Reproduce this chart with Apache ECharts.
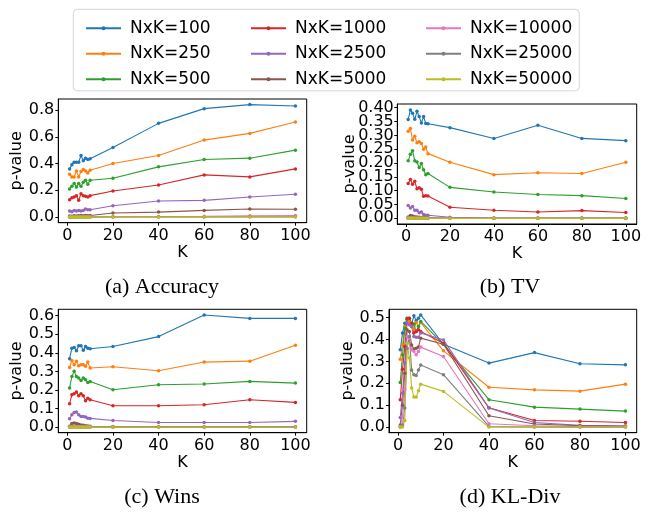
<!DOCTYPE html>
<html><head><meta charset="utf-8">
<script src="https://cdn.jsdelivr.net/npm/echarts@6/dist/echarts.min.js"></script>
<style>html,body{margin:0;padding:0;background:#fff}#c{width:652px;height:512px}</style>
</head><body><div id="c"></div>
<script>
// ---- data ----
const K = [1,2,3,4,5,6,7,8,9,10,20,40,60,80,100];
const names = ['NxK=100','NxK=250','NxK=500','NxK=1000','NxK=2500','NxK=5000','NxK=10000','NxK=25000','NxK=50000'];
const xTicks = [0,20,40,60,80,100];
const yTicksAcc = [0,0.2,0.4,0.6,0.8];
const yTicksTV = [0,0.05,0.1,0.15,0.2,0.25,0.3,0.35,0.4];
const yTicksWins = [0,0.1,0.2,0.3,0.4,0.5,0.6];
const yTicksKL = [0,0.1,0.2,0.3,0.4,0.5];
const captions = ['(a) Accuracy','(b) TV','(c) Wins','(d) KL-Div'];

// (a) Accuracy
const acc_100   = [0.36,0.39,0.41,0.41,0.41,0.46,0.42,0.44,0.43,0.435,0.52,0.70,0.81,0.84,0.83];
const acc_250   = [0.32,0.30,0.30,0.345,0.30,0.34,0.355,0.345,0.33,0.35,0.40,0.46,0.575,0.625,0.71];
const acc_500   = [0.21,0.23,0.25,0.225,0.25,0.23,0.26,0.275,0.245,0.275,0.29,0.375,0.43,0.44,0.50];
const acc_1000  = [0.13,0.145,0.15,0.16,0.125,0.175,0.16,0.155,0.15,0.16,0.195,0.24,0.315,0.30,0.36];
const acc_2500  = [0.045,0.04,0.05,0.045,0.05,0.045,0.05,0.06,0.055,0.055,0.085,0.12,0.125,0.15,0.17];
const acc_5000  = [0.008,0.006,0.01,0.008,0.01,0.012,0.01,0.012,0.01,0.012,0.03,0.037,0.05,0.06,0.058];
const acc_10000 = [0.001,0.001,0.002,0.001,0.002,0.002,0.002,0.002,0.002,0.002,0.003,0.004,0.006,0.01,0.012];
const acc_25000 = [0,0,0,0,0,0,0,0,0,0,0.001,0.001,0.001,0.002,0.002];
const acc_50000 = [0,0,0,0,0,0,0,0,0,0,0,0,0,0,0];

// (b) TV
const tv_100   = [0.357,0.392,0.38,0.358,0.387,0.368,0.345,0.368,0.343,0.342,0.328,0.289,0.337,0.289,0.281];
const tv_250   = [0.315,0.325,0.283,0.297,0.273,0.277,0.271,0.25,0.258,0.234,0.203,0.158,0.165,0.162,0.203];
const tv_500   = [0.208,0.232,0.244,0.208,0.204,0.184,0.198,0.176,0.158,0.162,0.112,0.095,0.086,0.082,0.072];
const tv_1000  = [0.126,0.14,0.123,0.134,0.107,0.111,0.105,0.08,0.082,0.081,0.04,0.029,0.023,0.028,0.021];
const tv_2500  = [0.046,0.037,0.043,0.029,0.029,0.02,0.023,0.014,0.011,0.011,0.004,0.001,0.001,0.001,0.001];
const tv_5000  = [0.005,0.01,0.008,0.006,0.005,0.004,0.003,0.002,0.002,0.002,0.001,0,0,0,0];
const tv_10000 = [0.001,0.002,0.002,0.001,0.001,0.001,0.001,0,0,0,0,0,0,0,0];
const tv_25000 = [0,0,0,0,0,0,0,0,0,0,0,0,0,0,0];
const tv_50000 = [0,0,0,0,0,0,0,0,0,0,0,0,0,0,0];

// (c) Wins
const wins_100   = [0.368,0.425,0.429,0.411,0.438,0.438,0.413,0.434,0.425,0.422,0.434,0.487,0.603,0.585,0.585];
const wins_250   = [0.321,0.359,0.336,0.354,0.33,0.336,0.336,0.327,0.35,0.318,0.325,0.303,0.35,0.355,0.44];
const wins_500   = [0.21,0.273,0.30,0.273,0.264,0.251,0.264,0.255,0.24,0.246,0.201,0.228,0.232,0.246,0.237];
const wins_1000  = [0.126,0.174,0.18,0.189,0.169,0.18,0.169,0.142,0.156,0.147,0.115,0.115,0.12,0.147,0.133];
const wins_2500  = [0.045,0.066,0.079,0.081,0.066,0.057,0.057,0.054,0.048,0.047,0.036,0.025,0.025,0.025,0.031];
const wins_5000  = [0.005,0.02,0.022,0.02,0.015,0.012,0.01,0.008,0.006,0.005,0.003,0.002,0.002,0.002,0.002];
const wins_10000 = [0.001,0.003,0.004,0.003,0.002,0.002,0.002,0.001,0.001,0.001,0.001,0,0,0,0];
const wins_25000 = [0,0,0,0,0,0,0,0,0,0,0,0,0,0,0];
const wins_50000 = [0,0,0,0,0,0,0,0,0,0,0,0,0,0,0];

// (d) KL-Div
const kl_100   = [0.353,0.429,0.474,0.477,0.474,0.47,0.508,0.485,0.497,0.512,0.378,0.292,0.34,0.289,0.284];
const kl_250   = [0.31,0.375,0.459,0.489,0.48,0.462,0.447,0.477,0.459,0.477,0.348,0.182,0.17,0.164,0.196];
const kl_500   = [0.204,0.33,0.451,0.492,0.497,0.459,0.47,0.436,0.459,0.482,0.378,0.125,0.091,0.082,0.073];
const kl_1000  = [0.125,0.264,0.368,0.497,0.497,0.474,0.429,0.436,0.444,0.436,0.383,0.088,0.03,0.027,0.021];
const kl_2500  = [0.044,0.155,0.292,0.474,0.467,0.459,0.413,0.41,0.41,0.429,0.398,0.087,0.021,0.008,0.006];
const kl_5000  = [0.01,0.1,0.246,0.444,0.436,0.375,0.356,0.36,0.365,0.406,0.378,0.052,0.014,0.006,0.003];
const kl_10000 = [0.003,0.049,0.17,0.413,0.406,0.353,0.345,0.33,0.345,0.365,0.322,0.015,0.006,0.002,0.002];
const kl_25000 = [0,0.01,0.087,0.36,0.413,0.26,0.239,0.236,0.26,0.283,0.239,0.003,0,0,0];
const kl_50000 = [0,0,0.03,0.383,0.315,0.178,0.137,0.137,0.166,0.196,0.163,0,0,0,0];

// ---- layout / styles ----
const colors = ['#1f77b4','#ff7f0e','#2ca02c','#d62728','#9467bd','#8c564b','#e377c2','#7f7f7f','#bcbd22'];
const panels = [
  {data:[acc_100,acc_250,acc_500,acc_1000,acc_2500,acc_5000,acc_10000,acc_25000,acc_50000], ticks:yTicksAcc, dec:1, min:-0.042, max:0.882,
   grid:{left:58.3, top:99, width:248.4, height:123.7}, nameGap:25, cap:[162,287], manual:false},
  {data:[tv_100,tv_250,tv_500,tv_1000,tv_2500,tv_5000,tv_10000,tv_25000,tv_50000], ticks:yTicksTV, dec:2, min:-0.0205, max:0.4135,
   grid:{left:397.3, top:104, width:239.4, height:120}, nameGap:39, cap:[510,287], manual:true},
  {data:[wins_100,wins_250,wins_500,wins_1000,wins_2500,wins_5000,wins_10000,wins_25000,wins_50000], ticks:yTicksWins, dec:1, min:-0.030, max:0.634,
   grid:{left:58.3, top:309.3, width:248.4, height:123.4}, nameGap:25, cap:[162,497], manual:false},
  {data:[kl_100,kl_250,kl_500,kl_1000,kl_2500,kl_5000,kl_10000,kl_25000,kl_50000], ticks:yTicksKL, dec:1, min:-0.0256, max:0.5376,
   grid:{left:389, top:309.3, width:247.7, height:123.4}, nameGap:24, cap:[510,497], manual:false}
];

const FONT = 'DejaVu Sans';
const grids = [], xAxes = [], yAxes = [], series = [];
panels.forEach((p, i) => {
  grids.push(Object.assign({show:true, borderColor:'#000', borderWidth:1, backgroundColor:'transparent'}, p.grid));
  xAxes.push({
    type:'value', gridIndex:i, min:-3.95, max:104.95,
    name:'K', nameLocation:'middle', nameGap:18,
    nameTextStyle:{fontFamily:FONT, fontSize:16, color:'#000'},
    axisLine:{show:true, onZero:false, lineStyle:{color:'#000', width:1}},
    axisTick:{show:true, length:3, customValues:xTicks, lineStyle:{color:'#000'}},
    axisLabel:{customValues:xTicks, fontFamily:FONT, fontSize:16, color:'#000', margin:5,
      showMinLabel:true, showMaxLabel:true, hideOverlap:false},
    splitLine:{show:false}
  });
  yAxes.push({
    type:'value', gridIndex:i, min:p.min, max:p.max,
    name:'p-value', nameLocation:'middle', nameGap:p.nameGap, nameRotate:90,
    nameTextStyle:{fontFamily:FONT, fontSize:16, color:'#000'},
    axisLine:{show:true, onZero:false, lineStyle:{color:'#000', width:1}},
    axisTick:{show:true, length:3, customValues:p.ticks, lineStyle:{color:'#000'}},
    axisLabel:{show:!p.manual, customValues:p.ticks, fontFamily:FONT, fontSize:16, color:'#000', margin:4,
      showMinLabel:true, showMaxLabel:true, hideOverlap:false,
      formatter:(v)=>Number(v).toFixed(p.dec)},
    splitLine:{show:false}
  });
  p.data.forEach((arr, s) => {
    series.push({
      type:'line', name:names[s], xAxisIndex:i, yAxisIndex:i,
      data:K.map((k,j)=>[k, arr[j]]),
      symbol:'circle', symbolSize:3.5, showSymbol:true,
      color:colors[s],
      lineStyle:{width:1.1, color:colors[s]},
      itemStyle:{color:colors[s]},
      emphasis:{disabled:true}, animation:false
    });
  });
});

const legendCols = [[0,1,2],[3,4,5],[6,7,8]];
const legendLeft = [80,245,420];
const legends = legendCols.map((c, j) => ({
  data:c.map(k=>names[k]), orient:'vertical', left:legendLeft[j], top:13.3,
  itemWidth:35, itemHeight:5, itemGap:5.5, selectedMode:false,
  textStyle:{fontFamily:FONT, fontSize:17, color:'#000', lineHeight:20, padding:[0,0,0,4]}
}));

const chart = echarts.init(document.getElementById('c'), null, {renderer:'canvas'});
chart.setOption({
  backgroundColor:'#fff', animation:false,
  graphic:[
    {id:'legendBox', type:'rect', shape:{x:73.3, y:9.3, width:506, height:81.5, r:4}, style:{fill:'#fff', stroke:'#d5d5d5', lineWidth:1}, z:-1},
    ...panels.map((p,i)=>({id:'cap'+i, type:'text', x:p.cap[0], y:p.cap[1], style:{text:captions[i], font:'22px "Liberation Serif"', fill:'#000', align:'center', verticalAlign:'middle'}}))
  ],
  legend:legends,
  grid:grids, xAxis:xAxes, yAxis:yAxes, series:series
});

// y tick labels for densely ticked panel, placed through the axis scale
const extra = [];
panels.forEach((p, i) => {
  if (!p.manual) return;
  p.ticks.forEach((v, t) => {
    const py = chart.convertToPixel({yAxisIndex:i}, v);
    extra.push({id:'yl'+i+'_'+t, type:'text', x:p.grid.left - 3.5, y:py,
      style:{text:v.toFixed(p.dec), font:'16px "DejaVu Sans"', fill:'#000', align:'right', verticalAlign:'middle'}});
  });
});
chart.setOption({graphic:extra});
</script></body></html>
